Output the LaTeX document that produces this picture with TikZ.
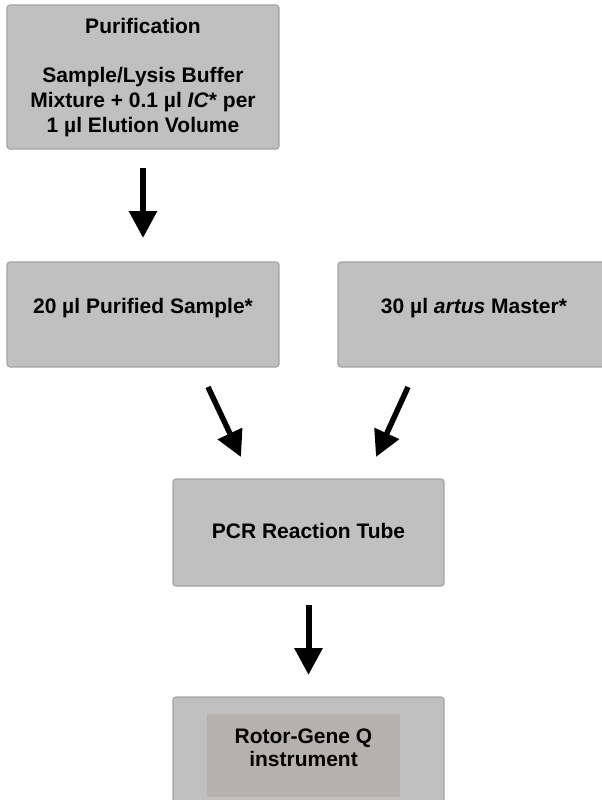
\documentclass[tikz,border=0pt]{standalone}
\usepackage{fontspec}
\setmainfont{Liberation Sans}
\usetikzlibrary{arrows.meta}
\definecolor{boxfill}{HTML}{C0C0C0}
\definecolor{boxline}{HTML}{A4A4A4}
\definecolor{innerfill}{HTML}{B5B1AF}
\begin{document}
\begin{tikzpicture}[x=1pt,y=-1pt,
  stepbox/.style={draw=boxline,fill=boxfill,line width=1.2pt,rounded corners=3pt,inner sep=0pt,outer sep=0pt,rectangle},
  innerbox/.style={fill=innerfill,inner sep=0pt,outer sep=0pt,rectangle},
  txt/.style={anchor=base,inner sep=0pt,font=\fontsize{21}{25}\selectfont\bfseries},
  bigarrow/.style={line width=6pt,-{Triangle[length=27pt,width=27pt]}},
  diagarrow/.style={line width=5.5pt,-{Triangle[length=26pt,width=26pt]}}]
\useasboundingbox (0,0) rectangle (602,800);
% boxes
\node[stepbox,minimum width=272pt,minimum height=144pt] (top) at (143,77) {};
\node[stepbox,minimum width=272pt,minimum height=105pt] (left) at (143,314.5) {};
\node[stepbox,minimum width=274pt,minimum height=105pt] (right) at (475,314.5) {};
\node[stepbox,minimum width=271pt,minimum height=107pt] (pcr) at (308.5,532.5) {};
\node[stepbox,minimum width=271pt,minimum height=115pt] (rotor) at (308.5,754.5) {};
\node[innerbox,minimum width=193pt,minimum height=83pt] (inner) at (303.5,755.5) {};
% texts
\node[txt] (t1) at (143,34) {Purification};
\node[txt] (t2) at (143,82) {Sample/Lysis Buffer};
\node[txt] (t3) at (143,107) {Mixture + 0.1 µl \textit{IC}* per};
\node[txt] (t4) at (143,132) {1 µl Elution Volume};
\node[txt] (t5) at (143,313) {20 µl Purified Sample*};
\node[txt] (t6) at (474,313) {30 µl \textit{artus} Master*};
\node[txt] (t7) at (308.5,538) {PCR Reaction Tube};
\node[txt] (t8) at (303.5,743) {Rotor-Gene Q};
\node[txt] (t9) at (303.5,766) {instrument};
% arrows
\coordinate (a2s) at (208,387);
\coordinate (a2e) at (241,457);
\coordinate (a3s) at (408,387);
\coordinate (a3e) at (376,457);
\draw[bigarrow,shorten <=19pt,shorten >=24pt] (top.south) -- (left.north);
\draw[diagarrow] (a2s) -- (a2e);
\draw[diagarrow] (a3s) -- (a3e);
\draw[bigarrow,shorten <=19pt,shorten >=22pt] (pcr.south) -- (rotor.north);
\end{tikzpicture}
\end{document}
